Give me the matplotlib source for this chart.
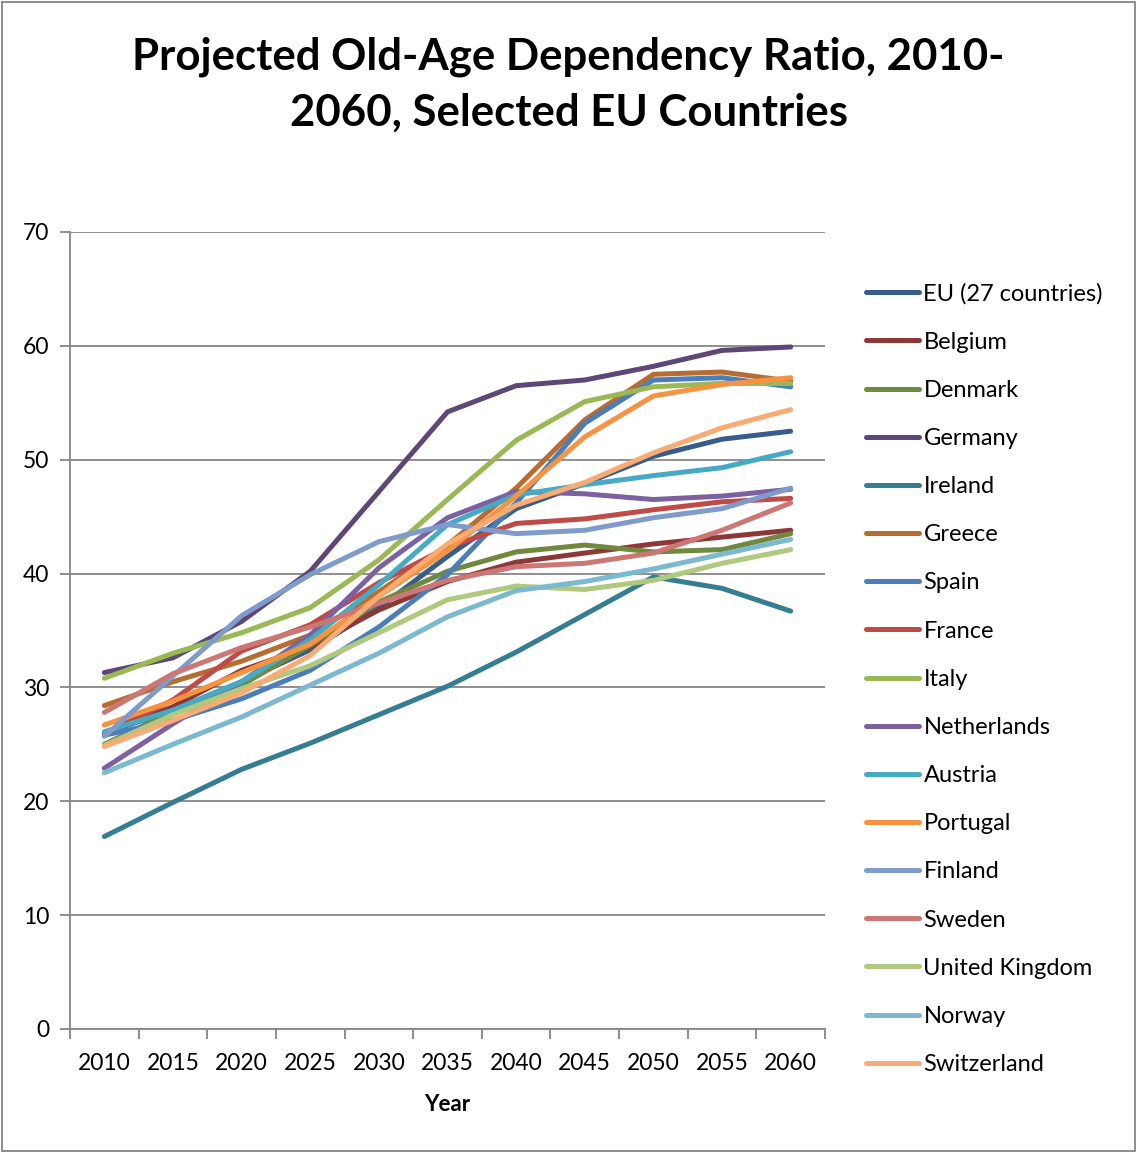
import numpy as np
import matplotlib.pyplot as plt

plt.rcParams['font.family'] = ['Lato', 'DejaVu Sans']

years = ['2010', '2015', '2020', '2025', '2030', '2035', '2040', '2045', '2050', '2055', '2060']

eu27 = [26.0, 28.0, 30.5, 33.3, 37.0, 41.5, 45.7, 47.9, 50.3, 51.8, 52.5]
belgium = [26.0, 28.3, 31.5, 33.6, 36.8, 39.3, 41.0, 41.8, 42.6, 43.2, 43.8]
denmark = [25.0, 27.9, 30.2, 33.7, 37.5, 40.2, 41.9, 42.5, 41.9, 42.1, 43.5]
germany = [31.3, 32.6, 35.8, 40.2, 47.2, 54.2, 56.5, 57.0, 58.2, 59.6, 59.9]
ireland = [16.9, 19.9, 22.8, 25.1, 27.6, 30.1, 33.1, 36.4, 39.7, 38.7, 36.7]
greece = [28.4, 30.5, 32.3, 34.6, 38.4, 42.5, 47.5, 53.5, 57.5, 57.7, 56.9]
spain = [25.8, 27.1, 29.0, 31.5, 35.3, 39.9, 46.2, 53.2, 57.0, 57.2, 56.4]
france = [25.9, 28.9, 33.2, 35.5, 39.2, 42.3, 44.4, 44.8, 45.6, 46.3, 46.6]
italy = [30.8, 33.0, 34.8, 37.0, 41.2, 46.5, 51.7, 55.1, 56.4, 56.7, 56.7]
netherlands = [22.9, 26.8, 30.5, 34.6, 40.5, 44.9, 47.2, 47.0, 46.5, 46.8, 47.4]
austria = [26.1, 28.0, 30.5, 34.2, 39.0, 44.3, 46.9, 47.8, 48.6, 49.3, 50.7]
portugal = [26.7, 28.8, 31.3, 33.8, 38.0, 42.0, 46.8, 52.0, 55.6, 56.6, 57.2]
finland = [25.7, 31.0, 36.3, 39.9, 42.8, 44.3, 43.5, 43.8, 44.9, 45.7, 47.5]
sweden = [27.8, 31.2, 33.5, 35.3, 37.4, 39.4, 40.6, 40.9, 41.8, 43.8, 46.2]
uk = [24.9, 27.6, 29.9, 31.9, 34.8, 37.7, 38.9, 38.6, 39.4, 40.9, 42.1]
norway = [22.5, 25.0, 27.4, 30.2, 33.0, 36.2, 38.5, 39.3, 40.4, 41.7, 43.0]
switzerland = [24.8, 27.1, 29.5, 32.8, 38.0, 42.6, 46.0, 48.0, 50.6, 52.8, 54.4]

names = ['EU (27 countries)', 'Belgium', 'Denmark', 'Germany', 'Ireland', 'Greece',
         'Spain', 'France', 'Italy', 'Netherlands', 'Austria', 'Portugal',
         'Finland', 'Sweden', 'United Kingdom', 'Norway', 'Switzerland']
series = [eu27, belgium, denmark, germany, ireland, greece,
          spain, france, italy, netherlands, austria, portugal,
          finland, sweden, uk, norway, switzerland]
colors = ['#385D8A', '#8C3836', '#71893F', '#5C4776', '#357D91', '#B66D31',
          '#4A7EBB', '#BE4B48', '#98B954', '#7D60A0', '#46AAC5', '#F69240',
          '#7E9BCC', '#CD7775', '#AFC97F', '#7BB9CF', '#F9AB73']

fig = plt.figure(figsize=(11.37, 11.53), dpi=100)
ax = fig.add_axes([0.0616, 0.1076, 0.664, 0.6912])

x = np.arange(len(years))
for vals, name, c in zip(series, names, colors):
    ax.plot(x, vals, color=c, lw=3.6, label=name, solid_capstyle='round')

ax.set_xlim(-0.5, len(years) - 0.5)
ax.set_ylim(0, 70)
ax.set_yticks(range(0, 71, 10))
ax.set_xticks(x)
ax.set_xticklabels(years)
ax.set_xticks(np.arange(-0.5, len(years)), minor=True)
ax.tick_params(axis='x', which='major', length=0, pad=17, labelsize=16.5)
ax.tick_params(axis='x', which='minor', length=7, width=1.3, color='#868686')
ax.tick_params(axis='y', length=7, width=1.3, color='#868686', labelsize=16.5, pad=8)
ax.grid(axis='y', color='#868686', lw=1.3)
ax.set_axisbelow(True)
for s in ['top', 'right']:
    ax.spines[s].set_visible(False)
for s in ['left', 'bottom']:
    ax.spines[s].set_color('#868686')
    ax.spines[s].set_linewidth(1.3)
ax.set_xlabel('Year', fontsize=16, fontweight='bold', labelpad=15)

fig.text(0.5, 0.968, 'Projected Old-Age Dependency Ratio, 2010-\n2060, Selected EU Countries',
         ha='center', va='top', fontsize=31.5, fontweight='bold', linespacing=1.45)

fig.legend(loc='upper left', bbox_to_anchor=(0.753, 0.7627), frameon=False,
           fontsize=17, handlelength=2.25, handletextpad=0.2, labelspacing=1.15,
           borderaxespad=0)

# outer chart border
fig.add_artist(plt.Rectangle((0.002, 0.002), 0.996, 0.996, transform=fig.transFigure,
                             fill=False, edgecolor='#868686', lw=1.3))

fig.savefig('out.png', dpi=100)
